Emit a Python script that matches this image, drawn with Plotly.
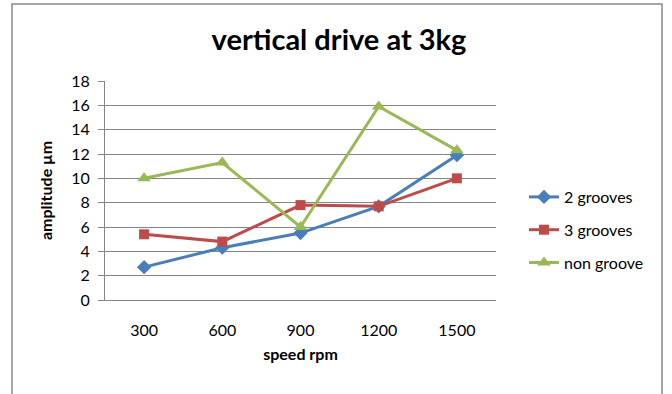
import plotly.graph_objects as go

speeds = ["300", "600", "900", "1200", "1500"]
two_grooves = [2.7, 4.3, 5.5, 7.7, 11.9]
three_grooves = [5.4, 4.8, 7.8, 7.7, 10.0]
non_groove = [10.0, 11.3, 6.0, 15.9, 12.3]
y_ticks = [0, 2, 4, 6, 8, 10, 12, 14, 16, 18]

series = [
    ("2 grooves", two_grooves, "#4A7EBB", "diamond", 11),
    ("3 grooves", three_grooves, "#BE4B48", "square", 10),
    ("non groove", non_groove, "#98B954", "triangle-up", 12),
]

FONT = "Lato, 'Open Sans', sans-serif"
W, H = 672, 394
L, R, T, B = 105, 176, 81, 94

fig = go.Figure()
for i, (name, vals, color, sym, size) in enumerate(series):
    fig.add_trace(go.Scatter(
        x=speeds, y=vals, name=name, mode="lines+markers",
        line=dict(color=color, width=3),
        marker=dict(symbol=sym, size=size, color=color),
        legendgroup=f"g{i}",
    ))

pw, ph = W - L - R, H - T - B
fig.add_shape(type="rect", xref="paper", yref="paper",
              x0=(12 - L) / pw, x1=(662 - L) / pw,
              y0=-(H + 10 - (T + ph)) / ph, y1=(T + ph - 4) / ph,
              line=dict(color="#888888", width=1.5), fillcolor="rgba(0,0,0,0)")

fig.update_layout(
    width=W, height=H,
    margin=dict(l=L, r=R, t=T, b=B),
    paper_bgcolor="white", plot_bgcolor="white",
    font=dict(family=FONT, color="#000000", size=16),
    title=dict(text="<b>vertical drive at 3kg</b>", x=339 / W, xanchor="center",
               y=1 - 40 / H, yanchor="middle",
               font=dict(size=29, family=FONT, color="#000000")),
    showlegend=True,
    legend=dict(x=(524 - L) / pw, xanchor="left", y=(T + ph - 230) / ph, yanchor="middle",
                font=dict(size=16, family=FONT), tracegroupgap=9,
                bgcolor="rgba(0,0,0,0)"),
    xaxis=dict(type="category", range=[-0.5, len(speeds) - 0.5], showgrid=False, showline=True,
               linecolor="#868686", linewidth=1, ticks="",
               tickfont=dict(size=16), ticklabelstandoff=16,
               title=dict(text="<b>speed rpm</b>", font=dict(size=16), standoff=10)),
    yaxis=dict(range=[0, 18], tickvals=y_ticks, showgrid=True,
               gridcolor="#868686", gridwidth=1, showline=True,
               linecolor="#868686", linewidth=1, ticks="outside", ticklen=6,
               tickcolor="#868686", tickfont=dict(size=16), zeroline=False,
               ticklabelstandoff=5,
               title=dict(text="<b>amplitude µm</b>", font=dict(size=16), standoff=14)),
)

fig.write_html("out.html")
